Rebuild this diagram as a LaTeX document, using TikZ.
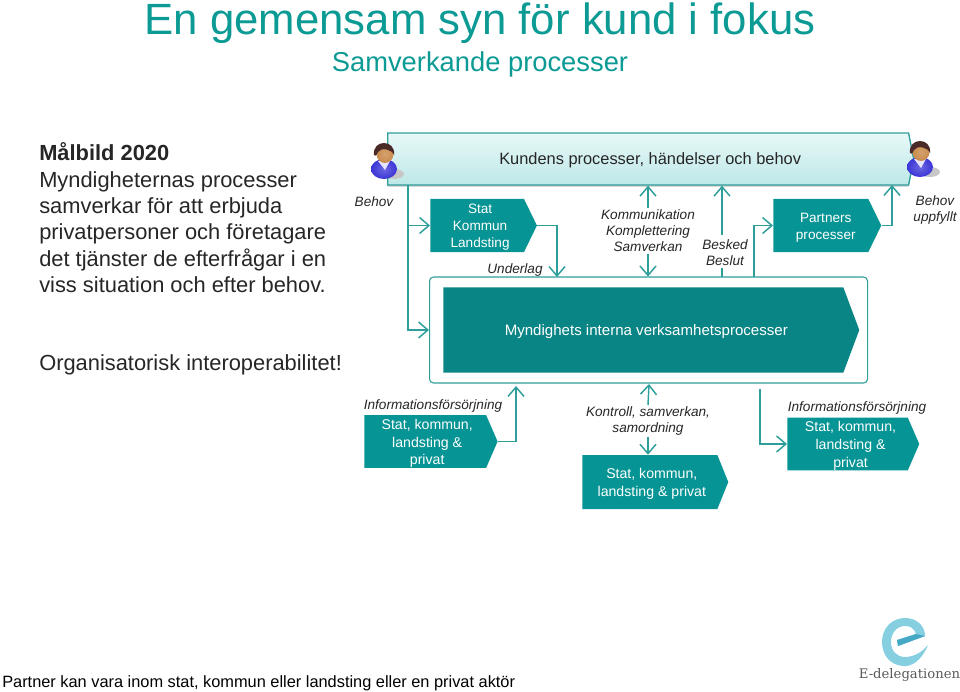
\documentclass[tikz,border=0pt]{standalone}
\usepackage{fontspec}
\setmainfont{Liberation Sans}
\newfontfamily\logofont{DejaVu Serif}
\usepackage{xcolor}
\usetikzlibrary{shapes.symbols, arrows.meta, shadows}
\definecolor{titleteal}{HTML}{0C9A94}
\definecolor{boxteal}{HTML}{079494}
\definecolor{darkteal}{HTML}{0A8585}
\definecolor{lineteal}{HTML}{2E9E9B}
\definecolor{kundtop}{HTML}{E8F8F8}
\definecolor{kundlow}{HTML}{BDE8E7}
\definecolor{hairbrown}{HTML}{4A2A28}
\definecolor{skinbrown}{HTML}{C98A4B}
\definecolor{shirtblue}{HTML}{3B35D6}
\definecolor{logolight}{HTML}{86CFE1}
\definecolor{logodark}{HTML}{45A9C6}
\newcommand{\px}[2]{\fontsize{#1}{#2}\selectfont}
\newcommand{\boxtext}[2]{\raisebox{-1.5pt}[\height][\depth]{\hspace*{#1}\begin{tabular}{@{}c@{}}#2\end{tabular}}}
\tikzstyle{process} = [signal, signal to=east, fill=boxteal, text=white, inner sep=0pt, align=center, anchor=west]
\tikzstyle{note} = [inner sep=1pt, align=center, font=\itshape\px{10.2}{12}, text=black!85]
\tikzstyle{body} = [inner sep=0pt, anchor=base west, text=black!85, font=\px{16.4}{19.5}]
\tikzstyle{arrow} = [lineteal, line width=1.1pt, -{Straight Barb[length=7pt,width=12pt]}]
\tikzstyle{line} = [lineteal, line width=1.1pt]
\tikzset{person/.pic={
   \fill [black!22] (10,20) ellipse (10 and 5);
   \shade [inner color=shirtblue!75!white, outer color=shirtblue] (0,15) ellipse (13 and 10);
   \fill [white!90!blue] (-6,7) -- (6,7) -- (1,16) -- cycle;
   \shade [inner color=skinbrown!80!white, outer color=skinbrown] (1,0) ellipse (8.5 and 9);
   \fill [hairbrown] (-10,1) .. controls (-12,-15) and (12,-15) .. (10,1) .. controls (8,-5) and (-3,-7) .. (-6,-2) .. controls (-7,0) and (-8,3) .. (-10,1) -- cycle;
}}

\begin{document}
\begin{tikzpicture}[x=0.75pt, y=-0.75pt]
   \useasboundingbox (0,0) rectangle (960,692);
   % title and left column
   \node (title) at (480,23) [inner sep=0pt, text=titleteal, font=\px{32.8}{38}] {En gemensam syn för kund i fokus};
   \node (subtitle) at (480,64) [inner sep=0pt, text=titleteal, font=\px{20.5}{24}] {Samverkande processer};
   \node (malbild) at (39,160) [body] {\textbf{Målbild 2020}};
   \node (text1) at (39,187) [body] {Myndigheternas processer};
   \node (text2) at (39,213) [body] {samverkar för att erbjuda};
   \node (text3) at (39,239) [body] {privatpersoner och företagare};
   \node (text4) at (39,266) [body] {det tjänster de efterfrågar i en};
   \node (text5) at (39,292) [body] {viss situation och efter behov.};
   \node (interop) at (39,370) [body] {Organisatorisk interoperabilitet!};
   \node (partner) at (2,687) [body, font=\px{12.27}{15}, text=black] {Partner kan vara inom stat, kommun eller landsting eller en privat aktör};
   % process boxes
   \node (kund) at (387,159) [process, minimum width=394.5pt, minimum height=39pt, signal pointer angle=158, fill=none, draw=lineteal, line width=1pt, top color=kundtop, bottom color=kundlow, drop shadow={opacity=.45, shadow xshift=0pt, shadow yshift=-1.2pt}, text=black!85, font=\px{12.3}{14}] {\boxtext{3pt}{Kundens processer, händelser och behov}};
   \node (frame) at (429,330) [anchor=west, rectangle, rounded corners=3pt, draw=lineteal, line width=.8pt, fill=white, minimum width=328.5pt, minimum height=79.5pt] {};
   \node (intern) at (443,330) [process, fill=darkteal, minimum width=312pt, minimum height=64pt, signal pointer angle=139, font=\px{11.3}{14}] {\boxtext{4.5pt}{Myndighets interna verksamhetsprocesser}};
   \node (stat) at (430,225.5) [process, minimum width=80pt, minimum height=40pt, signal pointer angle=128, font=\px{10.2}{12.8}] {\boxtext{4.5pt}{Stat\\Kommun\\Landsting}};
   \node (partners) at (773,225.5) [process, minimum width=81pt, minimum height=40pt, signal pointer angle=128, font=\px{10.2}{12.8}] {\boxtext{7.5pt}{Partners\\processer}};
   \node (infoa) at (364,441.5) [process, minimum width=100pt, minimum height=38pt, signal pointer angle=133, font=\px{10.6}{13.2}] {\boxtext{3pt}{Stat, kommun,\\landsting \&\\privat}};
   \node (samordn) at (582,482) [process, minimum width=109.5pt, minimum height=40.5pt, signal pointer angle=136, font=\px{10.6}{13.2}] {\boxtext{3pt}{Stat, kommun,\\landsting \& privat}};
   \node (infob) at (787,444) [process, minimum width=99pt, minimum height=39pt, signal pointer angle=133, font=\px{10.6}{13.2}] {\boxtext{4.5pt}{Stat, kommun,\\landsting \&\\privat}};
   % italic labels
   \node (behov) at (374,202) [note] {Behov};
   \node (uppfyllt) at (935,209.5) [note] {Behov\\uppfyllt};
   \node (underlag) at (515,270) [note] {Underlag};
   \node (komm) at (648,231) [note] {Kommunikation\\Komplettering\\Samverkan};
   \node (besked) at (725,253) [note] {Besked\\Beslut};
   \node (infotexta) at (433,406) [note] {Informationsförsörjning};
   \node (kontroll) at (648,421) [note] {Kontroll, samverkan,\\samordning};
   \node (infotextb) at (857,408) [note] {Informationsförsörjning};
   % connector ends
   \coordinate (behovtop) at (408,185);
   \coordinate (underlagend) at (557,277);
   \coordinate (beskedtop) at (722,235);
   \coordinate (beskedlow) at (722,268);
   \coordinate (beskedend) at (722,277);
   \coordinate (partnerstart) at (754,277);
   \coordinate (partnerend) at (892,185);
   \coordinate (infoaend) at (516,386);
   \coordinate (kontrollend) at (649,384);
   \coordinate (infobstart) at (760,389);
   % connectors
   \draw [arrow] (behovtop) |- (frame.west);
   \draw [arrow] (behovtop) |- (stat.west);
   \draw [arrow] (stat.east) -| (underlagend);
   \draw [arrow] (komm.north) -- (komm.north |- kund.south);
   \draw [arrow] (komm.south) -- (komm.south |- frame.north);
   \draw [arrow] (beskedtop) -- (beskedtop |- kund.south);
   \draw [line] (beskedlow) -- (beskedend);
   \draw [arrow] (partnerstart) |- (partners.west);
   \draw [arrow] (partners.east) -| (partnerend);
   \draw [arrow] (infoa.east) -| (infoaend);
   \draw [arrow] (kontroll.north) -- (kontrollend);
   \draw [arrow] (kontroll.south) -- (kontroll.south |- samordn.north);
   \draw [arrow] (infobstart) |- (infob.west);
   % people
   \pic at (384,154) {person};
   \pic at (920,152) {person};
   % logo
   \fill [logolight] (928,645) .. controls (922,660) and (912,667) .. (903,666) .. controls (890,665) and (882,655) .. (882,642) .. controls (882,628) and (892,618) .. (905,618) .. controls (917,618) and (925,626) .. (925,636) -- (898,646) -- (897,640) -- (916,634) .. controls (914,628) and (910,626) .. (905,626) .. controls (897,626) and (891,633) .. (891,642) .. controls (891,651) and (897,657) .. (905,657) .. controls (914,657) and (922,652) .. (928,645) -- cycle;
   \fill [logodark] (925,636) -- (898,646) -- (897,640) -- (916,634) -- cycle;
   \node (logotext) at (909.5,675) [inner sep=0pt, text=black!65, font=\logofont\px{9.9}{12}] {E-delegationen};
\end{tikzpicture}
\end{document}
